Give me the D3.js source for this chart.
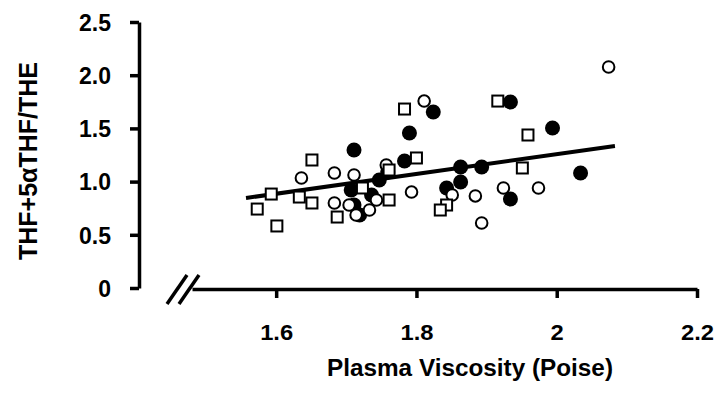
<!DOCTYPE html>
<html>
<head>
<meta charset="utf-8">
<script src="https://cdn.jsdelivr.net/npm/d3@7"></script>
<style>
  body { margin: 0; background: #fff; }
  svg text { font-family: "Liberation Sans", Arial, sans-serif; font-weight: bold; fill: #000; }
</style>
</head>
<body>
<div id="chart"></div>
<script>
// filled circles
var filledX = [1.711, 1.790, 1.783, 1.824, 1.934, 1.863, 1.893, 1.863, 1.843, 1.934, 1.994, 2.034, 1.707, 1.711, 1.719, 1.736, 1.747, 1.759];
var filledY = [1.297, 1.457, 1.194, 1.654, 1.748, 1.137, 1.137, 0.996, 0.940, 0.836, 1.504, 1.081, 0.921, 0.780, 0.686, 0.874, 1.015, 1.090];
// open circles
var openX = [1.636, 1.683, 1.711, 1.757, 1.793, 1.683, 1.811, 1.851, 1.884, 1.924, 1.893, 2.074, 1.974, 1.704, 1.714, 1.733, 1.743];
var openY = [1.034, 1.081, 1.062, 1.156, 0.902, 0.799, 1.757, 0.874, 0.865, 0.940, 0.611, 2.077, 0.940, 0.780, 0.686, 0.733, 0.827];
// open squares
var squareX = [1.573, 1.593, 1.601, 1.633, 1.651, 1.651, 1.783, 1.761, 1.800, 1.723, 1.687, 1.761, 1.916, 1.959, 1.951, 1.843, 1.834];
var squareY = [0.742, 0.883, 0.583, 0.855, 1.203, 0.799, 1.682, 1.109, 1.222, 0.940, 0.667, 0.827, 1.757, 1.438, 1.128, 0.780, 0.733];
// regression line
var lineX = [1.557, 2.083];
var lineY = [0.846, 1.335];

var xTicks = [1.6, 1.8, 2.0, 2.2];
var xTickLabels = ["1.6", "1.8", "2", "2.2"];
var yTicks = [0, 0.5, 1.0, 1.5, 2.0, 2.5];
var yTickLabels = ["0", "0.5", "1.0", "1.5", "2.0", "2.5"];

var width = 727, height = 399;

var svg = d3.select("#chart").append("svg")
    .attr("width", width)
    .attr("height", height);

var x = d3.scaleLinear().domain([1.48, 2.2]).range([192, 697]);
var y = d3.scaleLinear().domain([0, 2.5]).range([288, 22]);

// x axis
var xAxis = svg.append("g")
    .attr("transform", "translate(0,289)")
    .call(d3.axisBottom(x)
      .tickValues(xTicks)
      .tickFormat(function(d, i) { return xTickLabels[i]; })
      .tickSize(9)
      .tickSizeOuter(0)
      .tickPadding(26));
xAxis.select(".domain").attr("stroke-width", 3.5).attr("stroke", "#000");
xAxis.selectAll(".tick line").attr("stroke-width", 3.5).attr("stroke", "#000");
xAxis.selectAll(".tick text").attr("font-size", 22).attr("font-family", null)
    .attr("transform", "scale(1.08,1)");

// y axis
var yAxis = svg.append("g")
    .attr("transform", "translate(139,0)")
    .call(d3.axisLeft(y)
      .tickValues(yTicks)
      .tickFormat(function(d, i) { return yTickLabels[i]; })
      .tickSize(9)
      .tickSizeOuter(0)
      .tickPadding(19));
yAxis.select(".domain").attr("stroke-width", 3.5).attr("stroke", "#000");
yAxis.selectAll(".tick line").attr("stroke-width", 3.5).attr("stroke", "#000");
yAxis.selectAll(".tick text").attr("font-size", 23).attr("font-family", null)
    .attr("dy", "0.36em");

// axis break marks
[0, 12].forEach(function(off) {
  svg.append("line")
    .attr("x1", 167 + off).attr("y1", 304)
    .attr("x2", 187 + off).attr("y2", 275)
    .attr("stroke", "#000").attr("stroke-width", 3.5);
});

// regression line
svg.append("line")
    .attr("x1", x(lineX[0])).attr("y1", y(lineY[0]))
    .attr("x2", x(lineX[1])).attr("y2", y(lineY[1]))
    .attr("stroke", "#000").attr("stroke-width", 4);

// filled circles first, open markers drawn on top
svg.selectAll(".filled")
  .data(d3.range(filledX.length))
  .enter().append("circle")
    .attr("class", "filled")
    .attr("cx", function(i) { return x(filledX[i]); })
    .attr("cy", function(i) { return y(filledY[i]); })
    .attr("r", 7.5)
    .attr("fill", "#000");

svg.selectAll(".open")
  .data(d3.range(openX.length))
  .enter().append("circle")
    .attr("class", "open")
    .attr("cx", function(i) { return x(openX[i]); })
    .attr("cy", function(i) { return y(openY[i]); })
    .attr("r", 5.8)
    .attr("fill", "#fff")
    .attr("stroke", "#000")
    .attr("stroke-width", 2);

svg.selectAll(".sq")
  .data(d3.range(squareX.length))
  .enter().append("rect")
    .attr("class", "sq")
    .attr("x", function(i) { return x(squareX[i]) - 5.5; })
    .attr("y", function(i) { return y(squareY[i]) - 5.5; })
    .attr("width", 11)
    .attr("height", 11)
    .attr("fill", "#fff")
    .attr("stroke", "#000")
    .attr("stroke-width", 2);

// axis titles
svg.append("text")
    .attr("x", 470)
    .attr("y", 376)
    .attr("text-anchor", "middle")
    .attr("font-size", 23)
    .attr("textLength", 286)
    .attr("lengthAdjust", "spacingAndGlyphs")
    .text("Plasma Viscosity (Poise)");

svg.append("text")
    .attr("transform", "translate(37,161) rotate(-90)")
    .attr("text-anchor", "middle")
    .attr("font-size", 25)
    .text("THF+5\u03b1THF/THE");
</script>
</body>
</html>
